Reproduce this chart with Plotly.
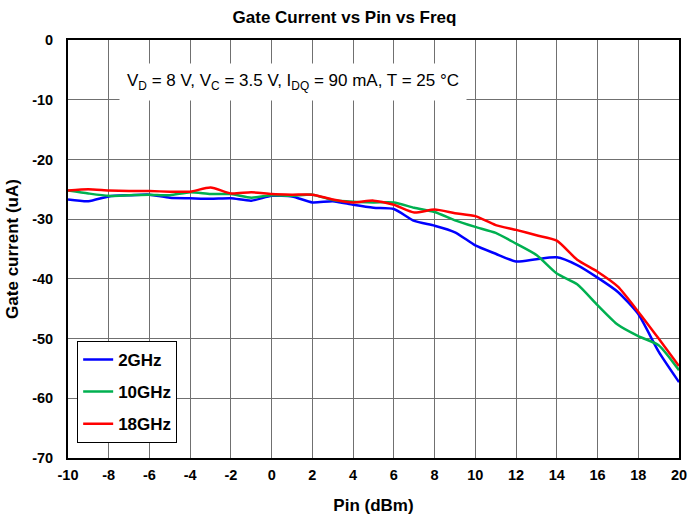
import plotly.graph_objects as go

# Input power sweep (dBm)
pin_dbm = [-10, -9, -8, -7, -6, -5, -4, -3, -2, -1, 0, 1, 2, 3, 4, 5, 6, 7, 8, 9,
           10, 11, 12, 13, 14, 15, 16, 17, 18, 19, 20]

# Gate current (uA) per frequency
ig_2ghz = [-26.7, -27.0, -26.2, -26.0, -25.9, -26.4, -26.5, -26.6, -26.5, -26.9, -26.1,
           -26.2, -27.2, -27.0, -27.6, -28.1, -28.3, -30.3, -31.1, -32.2, -34.4,
           -35.8, -37.1, -36.7, -36.4, -37.7, -39.8, -42.2, -45.9, -52.2, -57.3]
ig_10ghz = [-25.2, -25.7, -26.1, -26.0, -25.9, -26.0, -25.5, -25.8, -25.8, -26.4, -26.0,
            -26.1, -25.9, -26.8, -27.1, -27.2, -27.2, -28.1, -28.8, -30.2, -31.3,
            -32.3, -34.1, -36.0, -39.1, -40.9, -44.4, -47.7, -49.6, -51.1, -55.3]
ig_18ghz = [-25.2, -25.0, -25.2, -25.3, -25.3, -25.4, -25.4, -24.7, -25.7, -25.5, -25.8,
            -25.9, -25.9, -26.7, -27.2, -26.9, -27.6, -28.9, -28.4, -29.0, -29.5,
            -31.0, -31.8, -32.7, -33.6, -36.8, -38.8, -41.3, -45.5, -50.0, -54.6]

series_names = ["2GHz", "10GHz", "18GHz"]
series_colors = ["#0000FF", "#00B050", "#FF0000"]

x_ticks = list(range(-10, 21, 2))
y_ticks = list(range(-70, 1, 10))

FONT = "Liberation Sans, Arial, sans-serif"

fig = go.Figure()
for name, color, ys in zip(series_names, series_colors, [ig_2ghz, ig_10ghz, ig_18ghz]):
    fig.add_trace(go.Scatter(
        x=pin_dbm, y=ys, name=name, mode="lines",
        line=dict(color=color, width=2.5, shape="spline", smoothing=0.6),
        legendgroup=name,
    ))

fig.add_annotation(
    x=1.05, y=-7.0, xref="x", yref="y",
    text="V<sub>D</sub> = 8 V, V<sub>C</sub> = 3.5 V, I<sub>DQ</sub> = 90 mA, T = 25 °C",
    showarrow=False, bgcolor="white", borderpad=7,
    font=dict(family=FONT, size=17, color="black"),
)

fig.update_layout(
    width=689, height=517,
    margin=dict(l=68, r=10, t=40, b=59),
    paper_bgcolor="white", plot_bgcolor="white",
    title=dict(text="<b>Gate Current vs Pin vs Freq</b>", x=0.5, xanchor="center",
               y=1 - 17 / 517, yanchor="middle",
               font=dict(family=FONT, size=17, color="black")),
    font=dict(family=FONT, color="black"),
    showlegend=True,
    legend=dict(
        x=0.015, y=0.28, xanchor="left", yanchor="top",
        bgcolor="white", bordercolor="black", borderwidth=1,
        font=dict(family=FONT, size=17, color="black", weight="bold"),
        itemwidth=30, tracegroupgap=7, traceorder="grouped",
    ),
    xaxis=dict(
        range=[-10, 20], tickvals=x_ticks, ticktext=[str(v) for v in x_ticks],
        showgrid=True, gridcolor="#707070", gridwidth=1,
        showline=True, linecolor="black", linewidth=2, mirror=True,
        zeroline=False, ticks="", ticklabelstandoff=3, automargin=False,
        tickfont=dict(family=FONT, size=14.5, color="black", weight="bold"),
        title=dict(text="<b>Pin (dBm)</b>", standoff=17,
                   font=dict(family=FONT, size=17, color="black")),
    ),
    yaxis=dict(
        range=[-70, 0], tickvals=y_ticks, ticktext=[str(v) for v in y_ticks],
        showgrid=True, gridcolor="#707070", gridwidth=1,
        showline=True, linecolor="black", linewidth=2, mirror=True,
        zeroline=False, ticks="", ticklabelstandoff=10, automargin=False,
        tickfont=dict(family=FONT, size=14.5, color="black", weight="bold"),
        title=dict(text="<b>Gate current (uA)</b>", standoff=9,
                   font=dict(family=FONT, size=17, color="black")),
    ),
)

fig.write_html("out.html")
